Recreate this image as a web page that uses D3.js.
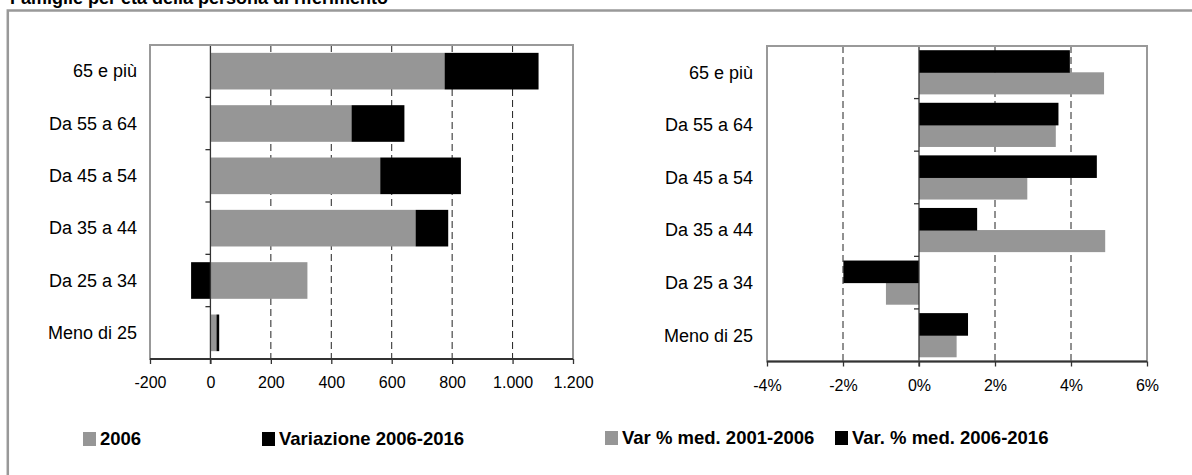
<!DOCTYPE html>
<html><head><meta charset="utf-8">
<script src="https://cdn.jsdelivr.net/npm/d3@7"></script>
<style>
html,body{margin:0;padding:0;background:#fff;}
svg{display:block;font-family:"Liberation Sans",Arial,sans-serif;}
</style></head>
<body>
<svg id="chart" width="1192" height="475"></svg>
<script>
// ---- data ----
const categories = ["65 e più","Da 55 a 64","Da 45 a 54","Da 35 a 44","Da 25 a 34","Meno di 25"];
const values2006 = [775, 467, 562, 679, 321, 20];
const variazione0616 = [311, 175, 267, 108, -64, 9];
const varPct0106 = [4.87, 3.60, 2.85, 4.90, -0.87, 0.99];
const varPct0616 = [3.97, 3.67, 4.68, 1.53, -1.99, 1.29];
const leftTicks = [-200, 0, 200, 400, 600, 800, 1000, 1200];
const leftTickLabels = ["-200","0","200","400","600","800","1.000","1.200"];
const rightTicks = [-4, -2, 0, 2, 4, 6];
const rightTickLabels = ["-4%","-2%","0%","2%","4%","6%"];
const leftLegend = ["2006", "Variazione 2006-2016"];
const rightLegend = ["Var % med. 2001-2006", "Var. % med. 2006-2016"];
const title = "Famiglie per età della persona di riferimento";

const GRAY = "#969696", BLACK = "#000000", FRAME = "#999999", AXIS = "#333333";
const svg = d3.select("#chart");

// outer frame
svg.append("text").attr("x", 10).attr("y", 3.5).attr("font-size", 18).attr("font-weight", "bold").text(title);
svg.append("path").attr("d", "M7.8,480 L7.8,10.5 L1200,10.5").attr("fill", "none").attr("stroke", FRAME).attr("stroke-width", 2.5);

function panel(opts) {
  const {left, right, top, bottom, domain, grid} = opts;
  const g = svg.append("g");
  const x = d3.scaleLinear().domain(domain).range([left, right]);
  const y = d3.scaleBand().domain(categories).range([top, bottom]).paddingInner(opts.pi).paddingOuter(opts.po);
  g.append("rect").attr("x", left).attr("y", top).attr("width", right - left).attr("height", bottom - top).attr("fill", "#fff");
  g.selectAll(".grid").data(grid).join("line")
    .attr("x1", d => x(d)).attr("x2", d => x(d)).attr("y1", top).attr("y2", bottom)
    .attr("stroke", "#222").attr("stroke-width", 1).attr("stroke-dasharray", "7,4");
  return {g, x, y};
}

// ---- left chart ----
{
  const top = 45, bottom = 359, left = 150, right = 573;
  const {g, x, y} = panel({left, right, top, bottom, domain:[-200,1200], grid:[200,400,600,800,1000], pi:0.3, po:0.15});
  const rows = categories.map((c, i) => ({cat: c, a: values2006[i], b: variazione0616[i]}));
  const stack = d3.stack().keys(["a","b"]).offset(d3.stackOffsetDiverging)(rows);
  const colors = {a: GRAY, b: BLACK};
  g.selectAll(".ser").data(stack).join("g").attr("fill", s => colors[s.key])
    .selectAll("rect").data(s => s).join("rect")
    .attr("x", d => x(Math.min(d[0], d[1]))).attr("width", d => Math.abs(x(d[1]) - x(d[0])))
    .attr("y", d => y(d.data.cat)).attr("height", y.bandwidth());
  const x0 = x(0);
  g.append("line").attr("x1", x0).attr("x2", x0).attr("y1", top).attr("y2", bottom + 5).attr("stroke", AXIS).attr("stroke-width", 1.3);
  g.selectAll(".ctick").data(d3.range(categories.length)).join("line")
    .attr("x1", x0 - 5).attr("x2", x0).attr("y1", i => top + i * y.step()).attr("y2", i => top + i * y.step())
    .attr("stroke", AXIS).attr("stroke-width", 1.3);
  g.selectAll(".clab").data(categories).join("text")
    .attr("x", 137).attr("y", (d, i) => top + y.step() * (i + 0.5)).attr("dy", "0.35em")
    .attr("text-anchor", "end").attr("font-size", 18).attr("fill", "#000").text(d => d);
  g.append("rect").attr("x", left).attr("y", top).attr("width", right - left).attr("height", bottom - top).attr("fill", "none").attr("stroke", FRAME).attr("stroke-width", 2);
  const xAx = g.append("g").attr("transform", `translate(0,${bottom})`)
    .call(d3.axisBottom(x).tickValues(leftTicks).tickSize(5).tickPadding(13).tickFormat((d, i) => leftTickLabels[i]));
  xAx.select(".domain").attr("stroke", AXIS).attr("stroke-width", 2).attr("d", `M${left},0H${right}`);
  xAx.selectAll(".tick line").attr("stroke", AXIS).attr("stroke-width", 1.3);
  xAx.selectAll(".tick text").attr("font-size", 16).attr("fill", "#000").attr("font-family", '"Liberation Sans",Arial,sans-serif');
}

// ---- right chart ----
{
  const top = 46, bottom = 361.5, left = 767, right = 1147;
  const {g, x, y} = panel({left, right, top, bottom, domain:[-4,6], grid:[-2,2,4], pi:0.16, po:0.08});
  const sub = d3.scaleBand().domain(["b","a"]).range([0, y.bandwidth()]);
  const rows = categories.map((c, i) => ({cat: c, a: varPct0106[i], b: varPct0616[i]}));
  const colors = {a: GRAY, b: BLACK};
  ["a","b"].forEach(k => {
    g.append("g").attr("fill", colors[k]).selectAll("rect").data(rows).join("rect")
      .attr("x", d => x(Math.min(0, d[k]))).attr("width", d => Math.abs(x(d[k]) - x(0)))
      .attr("y", d => y(d.cat) + sub(k)).attr("height", sub.bandwidth() + (k === "b" ? 0.5 : 0));
  });
  const x0 = x(0);
  g.append("line").attr("x1", x0).attr("x2", x0).attr("y1", top).attr("y2", bottom + 5).attr("stroke", AXIS).attr("stroke-width", 1.3);
  g.selectAll(".ctick").data(d3.range(categories.length)).join("line")
    .attr("x1", x0 - 5).attr("x2", x0).attr("y1", i => top + i * y.step()).attr("y2", i => top + i * y.step())
    .attr("stroke", AXIS).attr("stroke-width", 1.3);
  g.selectAll(".clab").data(categories).join("text")
    .attr("x", 753).attr("y", (d, i) => top + y.step() * (i + 0.5)).attr("dy", "0.35em")
    .attr("text-anchor", "end").attr("font-size", 18).attr("fill", "#000").text(d => d);
  g.append("rect").attr("x", left).attr("y", top).attr("width", right - left).attr("height", bottom - top).attr("fill", "none").attr("stroke", FRAME).attr("stroke-width", 2);
  const xAx = g.append("g").attr("transform", `translate(0,${bottom})`)
    .call(d3.axisBottom(x).tickValues(rightTicks).tickSize(5).tickPadding(13).tickFormat((d, i) => rightTickLabels[i]));
  xAx.select(".domain").attr("stroke", AXIS).attr("stroke-width", 2).attr("d", `M${left},0H${right}`);
  xAx.selectAll(".tick line").attr("stroke", AXIS).attr("stroke-width", 1.3);
  xAx.selectAll(".tick text").attr("font-size", 16).attr("fill", "#000").attr("font-family", '"Liberation Sans",Arial,sans-serif');
}

// ---- legends ----
const legItems = [
  {label: leftLegend[0], color: GRAY, x: 83, y: 439},
  {label: leftLegend[1], color: BLACK, x: 262, y: 439},
  {label: rightLegend[0], color: GRAY, x: 605, y: 438},
  {label: rightLegend[1], color: BLACK, x: 835, y: 438}
];
const lg = svg.append("g").selectAll("g").data(legItems).join("g").attr("transform", d => `translate(${d.x},${d.y})`);
lg.append("rect").attr("x", 0).attr("y", -7).attr("width", 13).attr("height", 14).attr("fill", d => d.color);
lg.append("text").attr("x", 17).attr("y", 0).attr("dy", "0.35em").attr("font-size", 18.5).attr("font-weight", "bold").attr("fill", "#000").text(d => d.label);
</script>
</body></html>
